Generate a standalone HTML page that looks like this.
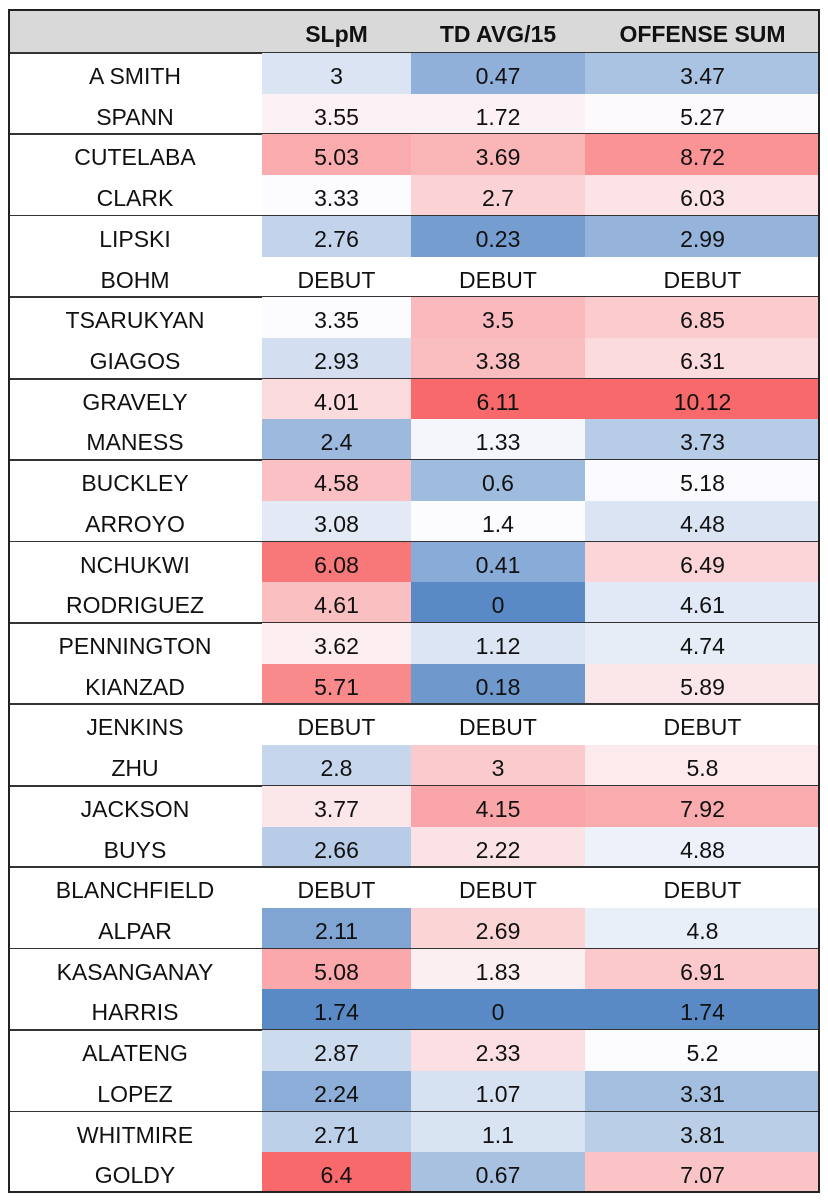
<!DOCTYPE html>
<html><head><meta charset="utf-8"><style>
body{margin:0;background:#fff;width:828px;height:1200px;overflow:hidden;font-family:"Liberation Sans",sans-serif;font-size:23px;color:#111}
.c{position:absolute;text-align:center;line-height:47px;height:40.7px;overflow:hidden}
.h{position:absolute;top:9px;left:8px;width:812px;height:44px;background:#d9d9d9}
.hl{position:absolute;left:8px;width:812px;background:#333}
.fr{position:absolute;left:8px;top:9px;width:812px;height:1184px;border:2px solid #222;box-sizing:border-box}
</style></head><body>
<div class="h"></div>
<div id="g"></div>
<div class="fr"></div>
<script>
const d=[["A SMITH",3,0.47,3.47],["SPANN",3.55,1.72,5.27],["CUTELABA",5.03,3.69,8.72],["CLARK",3.33,2.7,6.03],["LIPSKI",2.76,0.23,2.99],["BOHM"],["TSARUKYAN",3.35,3.5,6.85],["GIAGOS",2.93,3.38,6.31],["GRAVELY",4.01,6.11,10.12],["MANESS",2.4,1.33,3.73],["BUCKLEY",4.58,0.6,5.18],["ARROYO",3.08,1.4,4.48],["NCHUKWI",6.08,0.41,6.49],["RODRIGUEZ",4.61,0,4.61],["PENNINGTON",3.62,1.12,4.74],["KIANZAD",5.71,0.18,5.89],["JENKINS"],["ZHU",2.8,3,5.8],["JACKSON",3.77,4.15,7.92],["BUYS",2.66,2.22,4.88],["BLANCHFIELD"],["ALPAR",2.11,2.69,4.8],["KASANGANAY",5.08,1.83,6.91],["HARRIS",1.74,0,1.74],["ALATENG",2.87,2.33,5.2],["LOPEZ",2.24,1.07,3.31],["WHITMIRE",2.71,1.1,3.81],["GOLDY",6.4,0.67,7.07]];
const st=[];
for(let c=1;c<4;c++){const v=d.filter(r=>r.length>1).map(r=>r[c]).sort((a,b)=>a-b);const n=v.length;const p=(n-1)*0.5;const med=v[Math.floor(p)]+(v[Math.ceil(p)]-v[Math.floor(p)])*(p-Math.floor(p));st[c]=[v[0],med,v[n-1]];}
const B=[90,138,198],W=[252,252,255],R=[248,105,107];
function mix(a,b,t){return 'rgb('+a.map((x,i)=>Math.round(x+(b[i]-x)*t)).join(',')+')'}
function col(c,x){const [mn,md,mx]=st[c];if(x<=md)return mix(B,W,(x-mn)/(md-mn));return mix(W,R,(x-md)/(mx-md));}
const X=[8,262,411,585,820];
let h='';
const hd=['','SLpM','TD AVG/15','OFFENSE SUM'];
for(let c=1;c<4;c++)h+=`<div class="c" style="left:${X[c]}px;width:${X[c+1]-X[c]}px;top:11px;font-weight:bold">${hd[c]}</div>`;
h+=`<div class="hl" style="top:52px;height:2px"></div>`;
const rh=1140/28;
d.forEach((r,i)=>{const y=53+i*rh;
h+=`<div class="c" style="left:${X[0]}px;width:${X[1]-X[0]}px;top:${y}px">${r[0]}</div>`;
for(let c=1;c<4;c++){const bg=r.length==1?'transparent':col(c,r[c]);h+=`<div class="c" style="left:${X[c]}px;width:${X[c+1]-X[c]}px;top:${y}px;background:${bg}">${r.length==1?'DEBUT':r[c]}</div>`;}
if(i%2==1&&i<27){const th=(i==1||i==7||i==17)?2:1.5;h+=`<div class="hl" style="top:${y+rh-1}px;height:${th}px"></div>`;}
});
document.getElementById('g').innerHTML=h;
</script>
</body></html>
